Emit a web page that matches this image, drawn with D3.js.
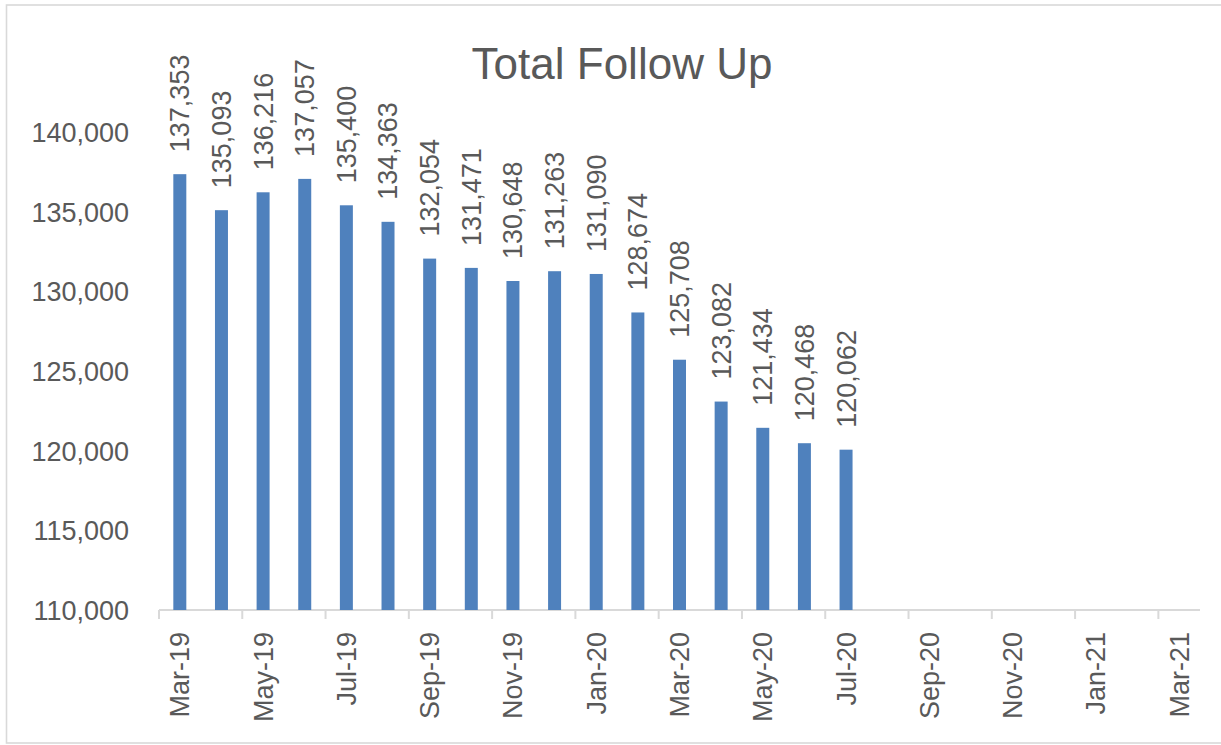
<!DOCTYPE html>
<html>
<head>
<meta charset="utf-8">
<script src="https://cdn.jsdelivr.net/npm/d3@7"></script>
<style>
  html, body { margin: 0; padding: 0; background: #fff; }
  svg { display: block; }
  text { font-family: "Liberation Sans", Arial, sans-serif; fill: #595959; }
</style>
</head>
<body>
<svg id="chart" width="1221" height="745"></svg>
<script>
// Monthly categories on the date axis (Mar-19 .. Mar-21)
const months = ["Mar-19","Apr-19","May-19","Jun-19","Jul-19","Aug-19","Sep-19","Oct-19","Nov-19","Dec-19",
                "Jan-20","Feb-20","Mar-20","Apr-20","May-20","Jun-20","Jul-20","Aug-20","Sep-20","Oct-20",
                "Nov-20","Dec-20","Jan-21","Feb-21","Mar-21"];
// Total follow-up counts (months without data are null)
const followUp = [137353,135093,136216,137057,135400,134363,132054,131471,130648,131263,
                  131090,128674,125708,123082,121434,120468,120062,null,null,null,
                  null,null,null,null,null];
// Labelled months on the x axis (every second month)
const xTickLabels = ["Mar-19","May-19","Jul-19","Sep-19","Nov-19","Jan-20","Mar-20","May-20",
                     "Jul-20","Sep-20","Nov-20","Jan-21","Mar-21"];
const yTicks = [110000,115000,120000,125000,130000,135000,140000];
const chartTitle = "Total Follow Up";

const svg = d3.select("#chart");
const fmt = d3.format(",");

// chart frame
svg.append("rect")
  .attr("x", 6.5).attr("y", 5)
  .attr("width", 1240).attr("height", 738)
  .attr("fill", "none").attr("stroke", "#D9D9D9").attr("stroke-width", 1.6);

const plot = { left: 159, right: 1200, top: 132, bottom: 610 };

const x = d3.scaleBand()
  .domain(months)
  .range([plot.left, plot.right])
  .paddingInner(0.688)
  .paddingOuter(0.344);

const y = d3.scaleLinear()
  .domain([110000, 140000])
  .range([plot.bottom, plot.top]);

// title
svg.append("text")
  .attr("x", 622).attr("y", 79)
  .attr("text-anchor", "middle")
  .style("font-size", "44px")
  .text(chartTitle);

// y axis labels (no axis line, no gridlines)
const yAxis = d3.axisLeft(y).tickValues(yTicks).tickFormat(fmt).tickSize(0).tickPadding(0);
const yg = svg.append("g").attr("transform", "translate(129,0)").call(yAxis);
yg.select(".domain").remove();
yg.selectAll("text")
  .attr("fill", "#595959")
  .attr("dy", "0.35em")
  .style("font-size", "27px")
  .style("font-family", "'Liberation Sans', Arial, sans-serif");

// x axis: line and ticks at month boundaries every two months
const xg = svg.append("g");
xg.append("line")
  .attr("x1", plot.left).attr("x2", plot.right)
  .attr("y1", plot.bottom).attr("y2", plot.bottom)
  .attr("stroke", "#D9D9D9").attr("stroke-width", 2);

const step = x.step();
const tickMonths = months.filter((m, i) => xTickLabels.includes(m));
xg.selectAll("line.tick")
  .data(tickMonths)
  .join("line")
  .attr("class", "tick")
  .attr("x1", d => x(d) - x.paddingInner() * step / 2)
  .attr("x2", d => x(d) - x.paddingInner() * step / 2)
  .attr("y1", plot.bottom).attr("y2", plot.bottom + 9)
  .attr("stroke", "#D9D9D9").attr("stroke-width", 2);

xg.selectAll("text.xl")
  .data(tickMonths)
  .join("text")
  .attr("class", "xl")
  .attr("transform", d => `translate(${x(d) + x.bandwidth() / 2},${plot.bottom + 22}) rotate(-90)`)
  .attr("text-anchor", "end")
  .attr("dy", "0.35em")
  .style("font-size", "27px")
  .text(d => d);

// bars
const data = months.map((m, i) => ({ month: m, value: followUp[i] })).filter(d => d.value != null);

svg.selectAll("rect.bar")
  .data(data)
  .join("rect")
  .attr("class", "bar")
  .attr("x", d => x(d.month))
  .attr("width", x.bandwidth())
  .attr("y", d => y(d.value))
  .attr("height", d => y(110000) - y(d.value))
  .attr("fill", "#4F81BD");

// value labels above bars
svg.selectAll("text.vl")
  .data(data)
  .join("text")
  .attr("class", "vl")
  .attr("transform", d => `translate(${x(d.month) + x.bandwidth() / 2},${y(d.value) - 22}) rotate(-90)`)
  .attr("text-anchor", "start")
  .attr("dy", "0.35em")
  .style("font-size", "27px")
  .text(d => fmt(d.value));
</script>
</body>
</html>
